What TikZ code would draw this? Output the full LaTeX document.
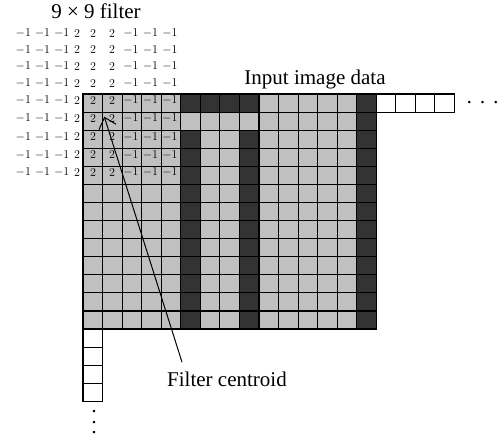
\documentclass[tikz,border=0pt]{standalone}
\usepackage{fontspec}
\setmainfont{Liberation Serif}
\usetikzlibrary{arrows.meta}

\definecolor{cellgray}{HTML}{C0C0C0}
\definecolor{celldark}{HTML}{333333}

\tikzset{
  gridline/.style={draw=black,line width=1.1pt,line cap=rect},
  num/.style={inner sep=0pt,font=\fontsize{12}{14}\selectfont},
  lbl/.style={inner sep=0pt,anchor=base,font=\fontsize{21}{25}\selectfont},
  ptr/.style={-{Straight Barb[length=10pt,width=18pt]},line width=1pt}
}

\begin{document}
\begin{tikzpicture}[x=1pt,y=-1pt]
  \useasboundingbox (0,0) rectangle (498,442);

  \begin{scope}[shift={(83,94)},x=19.55pt,y=-18.08pt]
    \fill[cellgray] (0,0) rectangle (15,13);
    \fill[celldark] (5,0) rectangle (9,1);
    \fill[celldark] (5,2) rectangle (6,13);
    \fill[celldark] (8,2) rectangle (9,13);
    \fill[celldark] (14,0) rectangle (15,13);

    \foreach \c in {0,...,15}
      \draw[gridline] (\c,0) -- (\c,13);
    \foreach \r in {0,...,13}
      \draw[gridline] (0,\r) -- (15,\r);

    \foreach \c in {15,...,18}
      \draw[gridline,fill=white] (\c,0) rectangle ++(1,1);
    \foreach \r in {13,...,16}
      \draw[gridline,fill=white] (0,\r) rectangle ++(1,1);
  \end{scope}

  \foreach \y [count=\i] in {33.3,49.8,66.3,83.5,100.5,118.6,136.7,154.7,172.3}
    \foreach \x/\v [count=\j] in {23.3/-1,42.5/-1,61.7/-1,77/2,93/2,112/2,131/-1,150.5/-1,170/-1}
      \node[num] (f\i\j) at (\x,\y) {$\v$};

  \node[lbl] (title) at (96,18.5) {9 × 9 filter};
  \node[lbl] (input) at (315,84) {Input image data};
  \node[lbl] (centroid) at (227,386) {Filter centroid};

  \node[lbl] (hdots) at (482.7,109) {·\hspace{6.25pt}·\hspace{6.25pt}·};
  \node[inner sep=0pt,align=center,font=\fontsize{21}{10.5}\selectfont]
    (vdots) at (94,425) {·\\·\\·};

  \coordinate (ctr) at (104.3,116.7);
  \draw[ptr] ([shift={(15pt,9pt)}]centroid.north west) -- (ctr);
\end{tikzpicture}
\end{document}
